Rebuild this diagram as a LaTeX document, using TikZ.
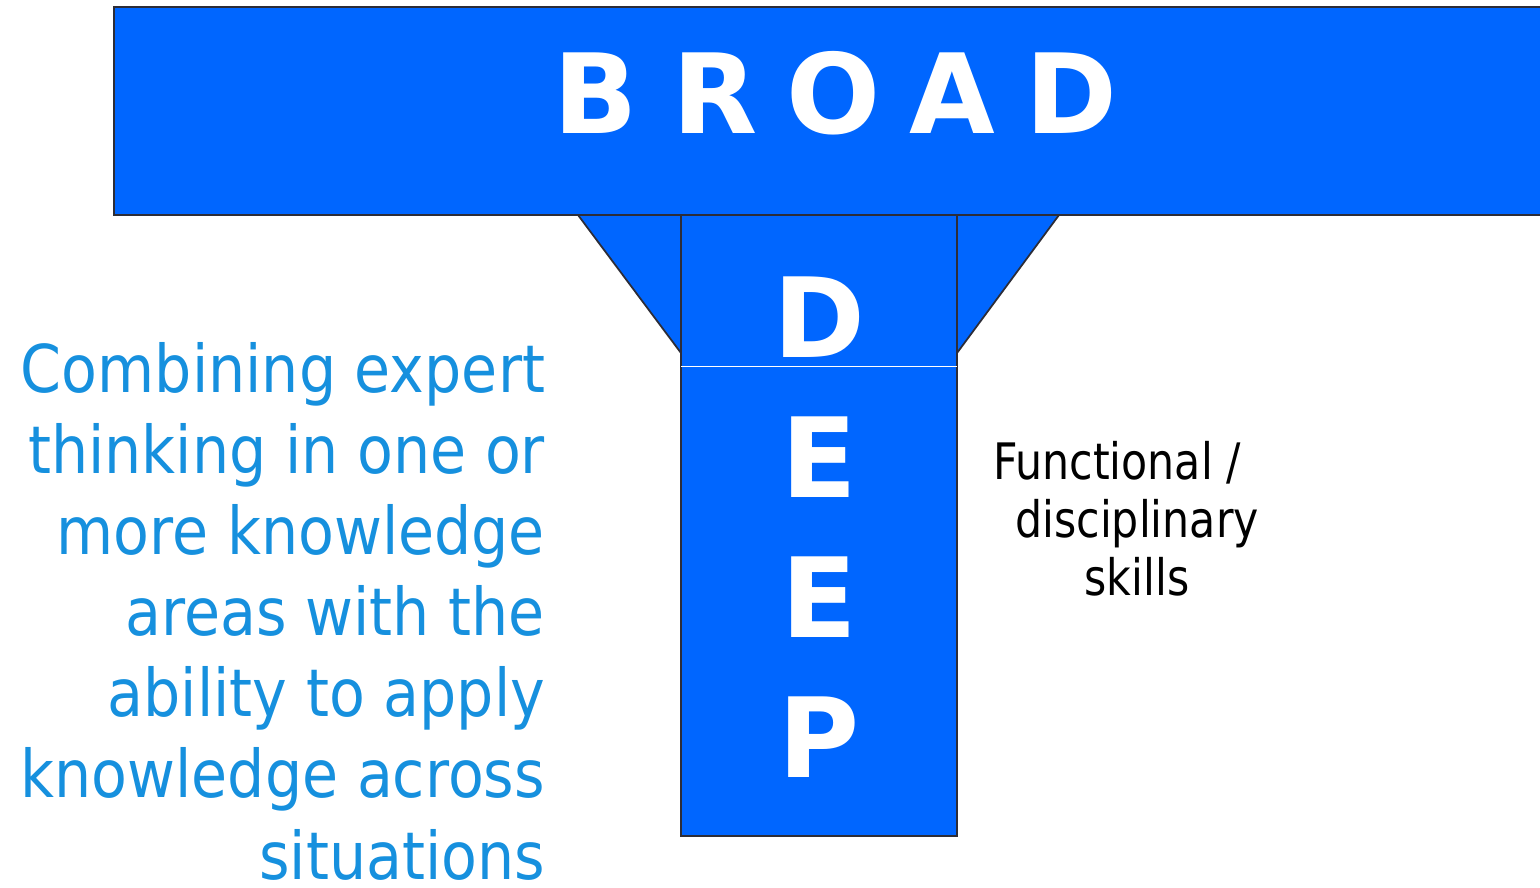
\documentclass[tikz,border=0pt]{standalone}
\usepackage{fontspec}
\setmainfont{DejaVu Sans}
\newfontfamily\leftfont[FakeStretch=0.89]{DejaVu Sans}
\newfontfamily\rightfont[FakeStretch=0.85]{DejaVu Sans}
\definecolor{tblue}{RGB}{0,102,255}
\definecolor{ttext}{RGB}{22,144,222}
\definecolor{tedge}{RGB}{45,45,55}

\begin{document}
\begin{tikzpicture}[x=0.02cm,y=-0.02cm,every node/.style={outer sep=0pt,inner sep=0pt}]
\tikzset{
    bar/.style    = {fill=tblue,draw=tedge,line width=1pt},
    letter/.style = {text=white,font=\fontsize{63}{63}\selectfont\bfseries,anchor=base},
    lefttext/.style  = {anchor=north east,align=right,text=ttext,
                        font=\leftfont\fontsize{37.5}{46.2}\selectfont},
    righttext/.style = {anchor=north,align=center,text=black,
                        font=\rightfont\fontsize{28.6}{33.2}\selectfont}
}

\useasboundingbox (0,0) rectangle (1540,887);
\clip (0,0) rectangle (1540,887);

%% the stem with its two wings
\draw [bar] (578,215) -- (1059,215) -- (957,353) -- (681,353) -- cycle;
\draw [bar] (681,215) rectangle (957,836);
\draw [white,line width=0.5pt] (681,366) -- (957,366);

%% the broad bar, runs off the right edge
\draw [bar] (114,7) rectangle (1560,215);

%% letters
\foreach \ch [count=\i] in {B,R,O,A,D}
    \node (broad\i) [letter] at ({596+118.75*(\i-1)},133) {\ch};
\foreach \ch [count=\i] in {D,E,E,P}
    \node (deep\i) [letter] at (819,{357+140*(\i-1)}) {\ch};

%% side texts
\node (combine) [lefttext] at (545,342) {Combining expert\\thinking in one or\\more knowledge\\areas with the\\ability to apply\\knowledge across\\situations};
\node (skills) [righttext] at (1137,441) {Functional /\hspace*{0.8cm}\\disciplinary\\skills};

\end{tikzpicture}
\end{document}
